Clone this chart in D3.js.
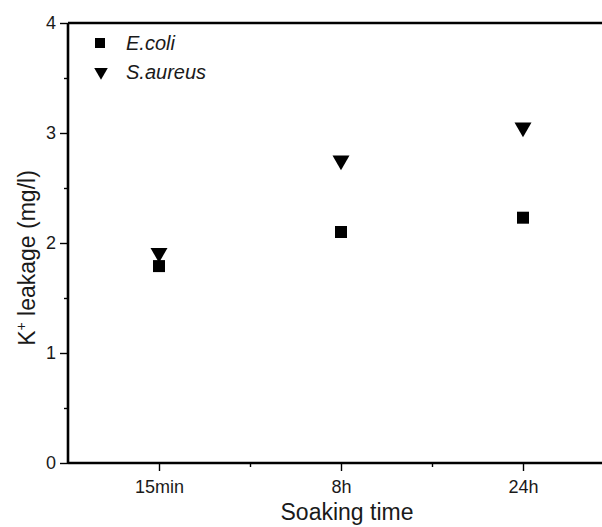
<!DOCTYPE html>
<html><head><meta charset="utf-8">
<script src="https://cdn.jsdelivr.net/npm/d3@7"></script>
<style>body{margin:0;background:#fff}</style>
</head><body>
<svg id="c" width="602" height="527"></svg>
<script>
const categories = ["15min", "8h", "24h"];
const ecoli = [1.79, 2.10, 2.23];
const saureus = [1.91, 2.75, 3.05];
const yTicks = [0, 1, 2, 3, 4];

const svg = d3.select("#c");
const font = "Liberation Sans, Arial, sans-serif";
const ink = "#1a1a1a";
const x = d3.scaleLinear().domain([0.5, 3.5]).range([68, 614]);
const y = d3.scaleLinear().domain([0, 4]).range([463, 23]);

// frame top
svg.append("line").attr("x1", x(0.5)).attr("x2", 602).attr("y1", y(4)).attr("y2", y(4)).attr("stroke", "#000").attr("stroke-width", 2.6);

// y axis
const yAxis = d3.axisLeft(y).tickValues(yTicks).tickSize(8).tickPadding(4).tickFormat(d3.format("d"));
const gy = svg.append("g").attr("transform", `translate(${x(0.5)},0)`).call(yAxis);
gy.attr("color", "#000");
gy.select(".domain").attr("stroke-width", 2.6).attr("d", `M0,${y(4)}V${y(0)}`);
gy.selectAll(".tick line").attr("stroke-width", 1.4);
gy.selectAll("text").attr("font-family", font).attr("font-size", 18).attr("fill", ink);
const yMinor = d3.axisLeft(y).tickValues([0.5, 1.5, 2.5, 3.5]).tickSize(4).tickFormat("");
const gym = svg.append("g").attr("transform", `translate(${x(0.5)},0)`).call(yMinor);
gym.attr("color", "#000");
gym.select(".domain").remove();
gym.selectAll(".tick line").attr("stroke-width", 1.4);

// x axis
const xAxis = d3.axisBottom(x).tickValues([1, 2, 3]).tickSize(8).tickPadding(9).tickFormat((d, i) => categories[i]);
const gx = svg.append("g").attr("transform", `translate(0,${y(0)})`).call(xAxis);
gx.attr("color", "#000");
gx.select(".domain").attr("stroke-width", 2.6).attr("d", `M${x(0.5)},0H602`);
gx.selectAll(".tick line").attr("stroke-width", 1.4);
gx.selectAll("text").attr("font-family", font).attr("font-size", 18).attr("fill", ink);
const xMinor = d3.axisBottom(x).tickValues([1.5, 2.5]).tickSize(4).tickFormat("");
const gxm = svg.append("g").attr("transform", `translate(0,${y(0)})`).call(xMinor);
gxm.attr("color", "#000");
gxm.select(".domain").remove();
gxm.selectAll(".tick line").attr("stroke-width", 1.4);

// titles
svg.append("text").attr("x", 347).attr("y", 520).attr("text-anchor", "middle")
  .attr("font-family", font).attr("font-size", 23).attr("fill", ink).text("Soaking time");
const yt = svg.append("text").attr("transform", `translate(35,258) rotate(-90)`).attr("text-anchor", "middle")
  .attr("font-family", font).attr("font-size", 23).attr("fill", ink);
yt.append("tspan").text("K");
yt.append("tspan").attr("font-size", 14).attr("dy", -9).text("+");
yt.append("tspan").attr("dy", 9).text(" leakage (mg/l)");

// markers
const sq = d3.symbol().type(d3.symbolSquare).size(144);
const tri = d3.symbol().type(d3.symbolTriangle).size(125);
svg.append("g").selectAll("path").data(ecoli).join("path")
  .attr("d", sq).attr("transform", (d, i) => `translate(${x(i + 1)},${y(d)})`).attr("fill", "#000");
svg.append("g").selectAll("path").data(saureus).join("path")
  .attr("d", tri).attr("transform", (d, i) => `translate(${x(i + 1)},${y(d)}) rotate(180)`).attr("fill", "#000");

// legend
const lg = svg.append("g");
lg.append("path").attr("d", d3.symbol().type(d3.symbolSquare).size(100)).attr("transform", "translate(100,43)");
lg.append("path").attr("d", d3.symbol().type(d3.symbolTriangle).size(80)).attr("transform", "translate(101,72) rotate(180)");
lg.append("text").attr("x", 126).attr("y", 50).attr("font-family", font).attr("font-style", "italic").attr("font-size", 20).attr("fill", ink).text("E.coli");
lg.append("text").attr("x", 126).attr("y", 79).attr("font-family", font).attr("font-style", "italic").attr("font-size", 20).attr("fill", ink).text("S.aureus");
</script>
</body></html>
